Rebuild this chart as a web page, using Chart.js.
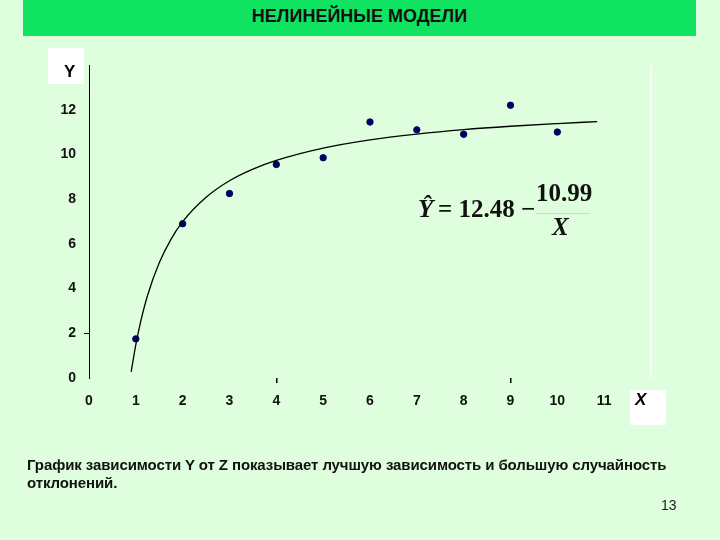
<!DOCTYPE html>
<html>
<head>
<meta charset="utf-8">
<script src="https://cdn.jsdelivr.net/npm/chart.js@4/dist/chart.umd.min.js"></script>
<style>
  html, body { margin: 0; padding: 0; }
  body { width: 720px; height: 540px; background: #DEFEDD; position: relative; overflow: hidden; font-family: "Liberation Sans", Arial, sans-serif; }
  #titlebar { position: absolute; left: 23px; top: 0; width: 673px; height: 36px; background: #10E262; }
  #title { position: absolute; left: 0; width: 100%; top: 6px; text-align: center; font-weight: bold; font-size: 18px; color: #111; }
  .wbox { position: absolute; background: #FFFFFF; }
  #ybox { left: 48px; top: 48px; width: 36px; height: 36px; }
  #xbox { left: 630px; top: 390px; width: 36px; height: 35px; }
  #ylab { position: absolute; left: 64px; top: 62px; font-weight: bold; font-size: 17px; }
  #xlab { position: absolute; left: 635px; top: 390px; font-weight: bold; font-style: italic; font-size: 17px; }
  canvas { position: absolute; left: 0; top: 0; }
  #eq { position: absolute; left: 418px; top: 186px; font-family: "Liberation Serif", "Times New Roman", serif; font-weight: bold; font-size: 25px; color: #111; }
  #note { position: absolute; left: 27px; top: 456px; width: 668px; font-weight: bold; font-size: 15px; letter-spacing: -0.1px; line-height: 18px; color: #111; }
  #page { position: absolute; left: 661px; top: 497px; font-size: 14px; color: #222; }
</style>
</head>
<body>
<div id="titlebar"><div id="title">НЕЛИНЕЙНЫЕ МОДЕЛИ</div></div>
<div class="wbox" id="ybox"></div>
<div class="wbox" id="xbox"></div>
<canvas id="c" width="720" height="540"></canvas>
<div id="ylab">Y</div>
<div id="xlab">X</div>
<div id="eq">
  <span style="position:absolute;left:0;top:9px;font-style:italic;">Ŷ</span>
  <span style="position:absolute;left:20px;top:9px;white-space:nowrap;">= 12.48 −</span>
  <span style="position:absolute;left:118px;top:-7px;">10.99</span>
  <span style="position:absolute;left:118px;top:27px;width:54px;height:1px;background:#cfd8cf;"></span>
  <span style="position:absolute;left:134px;top:27px;font-style:italic;">X</span>
</div>
<div id="note">График зависимости Y от Z показывает лучшую зависимость и большую случайность отклонений.</div>
<div id="page">13</div>
<script>
// Observed data points
const xValues = [1, 2, 3, 4, 5, 6, 7, 8, 9, 10];
const yValues = [1.75, 6.9, 8.25, 9.55, 9.85, 11.45, 11.1, 10.9, 12.2, 11.0];
// Trend curve (Y = 12.48 - 10.99/X)
const curveX = [0.9, 1, 1.1, 1.25, 1.5, 1.75, 2, 2.5, 3, 3.5, 4, 5, 6, 7, 8, 9, 10, 10.85];
const curveY = [0.27, 1.49, 2.49, 3.69, 5.15, 6.2, 6.99, 8.08, 8.82, 9.34, 9.73, 10.28, 10.65, 10.91, 11.11, 11.26, 11.38, 11.47];
// Axis tick labels
const xTickLabels = ['0','1','2','3','4','5','6','7','8','9','10','11'];
const yTickLabels = ['0','2','4','6','8','10','12'];

const points = xValues.map((x, i) => ({ x: x, y: yValues[i] }));
const curve = curveX.map((x, i) => ({ x: x, y: curveY[i] }));

new Chart(document.getElementById('c'), {
  type: 'scatter',
  data: {
    datasets: [
      { data: curve, showLine: true, borderColor: '#000', borderWidth: 1.3, pointRadius: 0, cubicInterpolationMode: 'monotone', fill: false },
      { data: points, pointRadius: 3.2, pointBackgroundColor: '#000060', pointBorderColor: '#000060', showLine: false }
    ]
  },
  options: {
    responsive: false,
    animation: false,
    events: [],
    layout: { autoPadding: false, padding: { top: 65, right: 69, bottom: 0, left: 0 } },
    plugins: { legend: { display: false }, tooltip: { enabled: false } },
    scales: {
      x: {
        type: 'linear', min: 0, max: 12,
        afterFit: s => { s.height = 162; },
        border: { display: false },
        grid: {
          drawOnChartArea: true, drawTicks: true, tickLength: 5,
          color: ctx => (ctx.tick && ctx.tick.value === 12) ? '#FFFFFF' : 'rgba(0,0,0,0)',
          tickColor: ctx => (ctx.tick && (ctx.tick.value === 4 || ctx.tick.value === 9)) ? '#000' : 'rgba(0,0,0,0)',
          lineWidth: 1.5
        },
        ticks: {
          stepSize: 1, padding: 10, color: '#111',
          font: { family: '"Liberation Sans", Arial, sans-serif', size: 14, weight: 'bold' },
          callback: (v) => (xTickLabels[v] !== undefined ? xTickLabels[v] : '')
        }
      },
      y: {
        type: 'linear', min: 0, max: 14,
        afterFit: s => { s.width = 89; },
        border: { display: true, color: '#000', width: 1 },
        grid: {
          drawOnChartArea: false, drawTicks: true, tickLength: 5,
          tickColor: ctx => (ctx.tick && ctx.tick.value === 2) ? '#000' : 'rgba(0,0,0,0)'
        },
        ticks: {
          stepSize: 2, padding: 8, color: '#111',
          font: { family: '"Liberation Sans", Arial, sans-serif', size: 14, weight: 'bold' },
          callback: (v) => (yTickLabels[v / 2] !== undefined ? yTickLabels[v / 2] : '')
        }
      }
    }
  }
});
</script>
</body>
</html>
